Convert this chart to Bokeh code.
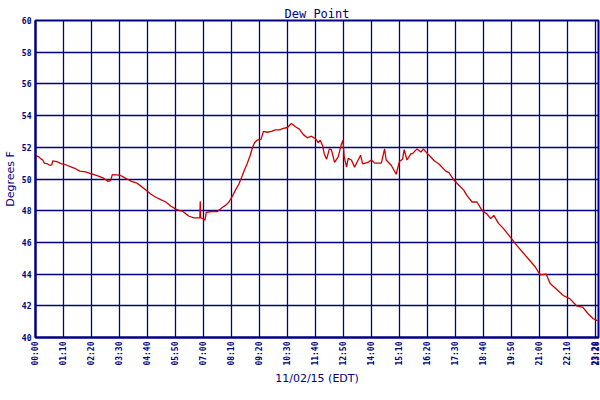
import math
from bokeh.plotting import figure
from bokeh.models import FixedTicker, Range1d, Legend, LegendItem
from bokeh.embed import file_html
from bokeh.resources import INLINE

# minutes after midnight, dew point (F)
minutes = [0, 8, 12, 18, 22, 30, 37, 41, 43, 53, 58, 65, 75, 90, 100, 111, 125, 140, 150, 161,
           170, 176, 181, 188, 192, 210, 218, 229, 240, 252, 264, 276, 288, 301, 313, 326, 338, 351,
           360, 368, 376, 384, 397, 411, 412, 413, 419, 424, 427, 440, 455, 467, 476, 484, 492, 500,
           509, 517, 523, 529, 537, 543, 548, 554, 564, 570, 579, 590, 600, 610, 620, 630, 640, 650,
           660, 670, 680, 690, 700, 707, 712, 718, 722, 728, 735, 740, 748, 757, 765, 769, 772, 778,
           782, 790, 798, 806, 813, 818, 831, 840, 848, 865, 873, 877, 890, 902, 910, 918, 922, 929,
           939, 943, 954, 964, 970, 980, 988, 997, 1009, 1026, 1034, 1046, 1055, 1071, 1079, 1092,
           1104, 1117, 1129, 1138, 1146, 1158, 1171, 1190, 1204, 1221, 1233, 1250, 1262, 1277, 1287,
           1303, 1320, 1336, 1353, 1369, 1382, 1394, 1406]
dewpoint = [51.5, 51.4, 51.3, 51.2, 51.0, 50.95, 50.85, 50.9, 51.15, 51.1, 51.05, 50.95, 50.9, 50.75,
            50.65, 50.5, 50.45, 50.33, 50.25, 50.15, 50.05, 49.95, 49.85, 49.9, 50.28, 50.25, 50.15,
            50.0, 49.85, 49.76, 49.55, 49.3, 49.05, 48.85, 48.7, 48.55, 48.3, 48.1, 48.0, 47.97, 47.8,
            47.65, 47.55, 47.55, 48.6, 47.55, 47.5, 47.4, 47.9, 47.95, 47.95, 48.2, 48.35, 48.55, 48.9,
            49.3, 49.7, 50.2, 50.6, 50.95, 51.5, 52.0, 52.3, 52.45, 52.5, 53.0, 52.95, 53.0, 53.1, 53.1,
            53.2, 53.25, 53.5, 53.3, 53.15, 52.8, 52.6, 52.7, 52.55, 52.3, 52.45, 52.1, 51.6, 51.25,
            51.9, 51.85, 51.05, 51.4, 52.2, 52.45, 51.4, 50.75, 51.3, 51.2, 50.75, 51.15, 51.5, 50.95,
            51.05, 51.2, 51.0, 51.0, 51.9, 51.2, 50.85, 50.3, 51.1, 51.25, 51.85, 51.2, 51.6, 51.6, 51.9,
            51.7, 51.9, 51.6, 51.4, 51.15, 50.95, 50.5, 50.4, 49.95, 49.7, 49.3, 48.95, 48.55, 48.55,
            48.0, 47.8, 47.5, 47.7, 47.2, 46.85, 46.25, 45.8, 45.3, 44.95, 44.45, 43.95, 44.0, 43.4,
            43.05, 42.65, 42.45, 42.0, 41.9, 41.5, 41.2, 41.05]

x_ticks = [0, 70, 140, 210, 280, 350, 420, 490, 560, 630, 700, 770, 840, 910, 980, 1050, 1120,
           1190, 1260, 1330, 1400, 1408]
x_tick_labels = ["00:00", "01:10", "02:20", "03:30", "04:40", "05:50", "07:00", "08:10", "09:20",
                 "10:30", "11:40", "12:50", "14:00", "15:10", "16:20", "17:30", "18:40", "19:50",
                 "21:00", "22:10", "23:20", "23:28"]
y_ticks = [40, 42, 44, 46, 48, 50, 52, 54, 56, 58, 60]

NAVY = "#000080"
RED = "#cc0000"

p = figure(width=600, height=400, output_backend="svg", toolbar_location=None,
           x_range=Range1d(0, 1408), y_range=Range1d(40, 60),
           title="Dew Point", min_border_left=32, min_border_right=2,
           min_border_top=20, min_border_bottom=63)

p.title.align = "center"
p.title.text_color = NAVY
p.title.text_font = "DejaVu Sans Mono"
p.title.text_font_size = "12px"
p.title.text_font_style = "normal"
p.title.standoff = 0
p.title.offset = 0

r = p.line(minutes, dewpoint, line_color=RED, line_width=1.3)

p.xaxis.ticker = FixedTicker(ticks=x_ticks)
p.xaxis.major_label_overrides = {t: l for t, l in zip(x_ticks, x_tick_labels)}
p.xaxis.major_label_orientation = math.pi / 2
p.yaxis.ticker = FixedTicker(ticks=y_ticks)

for ax in (p.xaxis[0], p.yaxis[0]):
    ax.axis_line_color = NAVY
    ax.axis_line_width = 2
    ax.major_tick_line_color = None
    ax.minor_tick_line_color = None
    ax.major_tick_out = 0
    ax.major_tick_in = 0
    ax.minor_tick_out = 0
    ax.minor_tick_in = 0
    ax.major_label_text_color = NAVY
    ax.major_label_text_font = "DejaVu Sans Mono"
    ax.major_label_text_font_size = "8px"
    ax.major_label_text_font_style = "bold"
    ax.axis_label_text_color = NAVY
    ax.axis_label_text_font = "DejaVu Sans"
    ax.axis_label_text_font_size = "11px"
    ax.axis_label_text_font_style = "normal"

p.xaxis.axis_label = "11/02/15 (EDT)"
p.yaxis.axis_label = "Degrees F"
p.yaxis.axis_label_standoff = 2
p.yaxis.major_label_standoff = 4
p.xaxis.major_label_standoff = 4
p.xaxis.axis_label_standoff = 3

p.xgrid.grid_line_color = NAVY
p.ygrid.grid_line_color = NAVY
p.xgrid.grid_line_width = 1.3
p.ygrid.grid_line_width = 1.3
p.grid.level = "underlay"

p.outline_line_color = NAVY
p.outline_line_width = 2
p.background_fill_color = "white"
p.border_fill_color = "white"

legend = Legend(items=[LegendItem(label="Dew Point", renderers=[r])],
                orientation="horizontal", location=(226, -55),
                label_text_font="DejaVu Sans Mono", label_text_font_size="8px",
                label_text_color=NAVY, border_line_color=None,
                background_fill_alpha=0, glyph_width=12, glyph_height=8,
                label_standoff=3, padding=0, margin=0, spacing=0,
                label_height=8)
p.add_layout(legend)

open("out.html", "w").write(file_html(p, INLINE))
